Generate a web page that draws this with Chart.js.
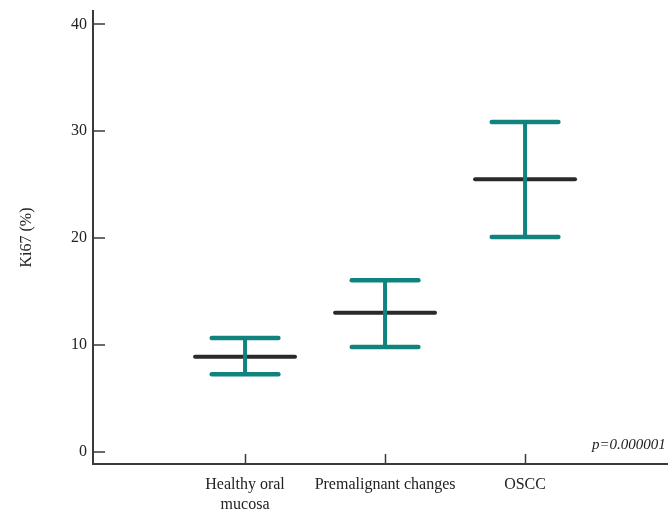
<!DOCTYPE html>
<html>
<head>
<meta charset="utf-8">
<script src="https://cdn.jsdelivr.net/npm/chart.js@4.4.0/dist/chart.umd.min.js"></script>
<style>
  html, body { margin: 0; padding: 0; background: #fff; }
  #wrap { width: 668px; height: 511px; }
</style>
</head>
<body>
<div id="wrap"><canvas id="myChart" width="668" height="511"></canvas></div>
<script>
// data
var categories = [['Healthy oral', 'mucosa'], 'Premalignant changes', 'OSCC']
var meanValues = [8.9, 13.0, 25.5]
var lowerValues = [7.25, 9.8, 20.1]
var upperValues = [10.65, 16.05, 30.85]
var yTicks = [0, 10, 20, 30, 40]
var pText = 'p=0.000001'

var teal = '#11837f'
var dark = '#2a2a2a'
var axisColor = '#3a3a3a'
var serif = "'Liberation Serif', 'DejaVu Serif', serif"

var meanHalf = 0.357
var capHalf = 0.238

function seg(x1, y1, x2, y2, color, width, order){
    return {
        data: [{x: x1, y: y1}, {x: x2, y: y2}],
        borderColor: color,
        borderWidth: width,
        borderCapStyle: 'round',
        pointRadius: 0,
        pointHoverRadius: 0,
        showLine: true,
        fill: false,
        order: order
    }
}

var datasets = []
for (i = 0; i < categories.length; i++){
    var c = i + 1
    datasets.push(seg(c - meanHalf, meanValues[i], c + meanHalf, meanValues[i], dark, 4, 2))
    datasets.push(seg(c, lowerValues[i], c, upperValues[i], teal, 4, 1))
    datasets.push(seg(c - capHalf, upperValues[i], c + capHalf, upperValues[i], teal, 4.5, 1))
    datasets.push(seg(c - capHalf, lowerValues[i], c + capHalf, lowerValues[i], teal, 4.5, 1))
}

// inward tick marks + p value text
var extras = {
    id: 'extras',
    afterDraw: function(chart){
        var ctx = chart.ctx
        var xs = chart.scales.x, ys = chart.scales.y
        var area = chart.chartArea
        ctx.save()
        ctx.strokeStyle = axisColor
        ctx.beginPath()
        yTicks.forEach(function(v){
            var py = Math.round(ys.getPixelForValue(v))
            ctx.moveTo(area.left, py)
            ctx.lineTo(area.left + 12, py)
        })
        for (i = 0; i < categories.length; i++){
            var px = Math.round(xs.getPixelForValue(i + 1)) + 0.5
            ctx.moveTo(px, area.bottom)
            ctx.lineTo(px, area.bottom - 10)
        }
        ctx.lineWidth = 1.5
        ctx.stroke()
        ctx.fillStyle = '#222'
        ctx.font = 'italic 15px ' + serif
        ctx.textBaseline = 'alphabetic'
        ctx.fillText(pText, area.right - 76, area.bottom - 15)
        ctx.restore()
    }
}

var ctx = document.getElementById('myChart').getContext('2d')
var myChart = new Chart(ctx, {
    type: 'scatter',
    data: { datasets: datasets },
    plugins: [extras],
    options: {
        responsive: false,
        animation: false,
        events: [],
        layout: { padding: { top: 11, left: 0, right: 0, bottom: 0 } },
        plugins: { legend: { display: false }, tooltip: { enabled: false } },
        scales: {
            x: {
                type: 'linear',
                min: -0.086,
                max: 4.021,
                afterBuildTicks: function(axis){
                    axis.ticks = categories.map(function(c, i){ return {value: i + 1} })
                },
                afterFit: function(scale){ scale.height = 47 },
                grid: { display: false, drawTicks: false },
                border: { display: true, color: axisColor, width: 2 },
                ticks: {
                    autoSkip: false,
                    maxRotation: 0,
                    padding: 10,
                    color: '#222',
                    font: { family: serif, size: 16, lineHeight: 1.3 },
                    callback: function(v){ return categories[v - 1] }
                }
            },
            y: {
                min: -1.15,
                max: 41.25,
                afterBuildTicks: function(axis){
                    axis.ticks = yTicks.map(function(v){ return {value: v} })
                },
                afterFit: function(scale){ scale.width = 93 },
                grid: { display: false, drawTicks: false },
                border: { display: true, color: axisColor, width: 2 },
                title: {
                    display: true,
                    text: 'Ki67 (%)',
                    color: '#222',
                    font: { family: serif, size: 16 },
                    padding: { top: 17, bottom: 0 }
                },
                ticks: {
                    padding: 6,
                    color: '#222',
                    font: { family: serif, size: 16, lineHeight: 0.6 }
                }
            }
        }
    }
});
</script>
</body>
</html>
